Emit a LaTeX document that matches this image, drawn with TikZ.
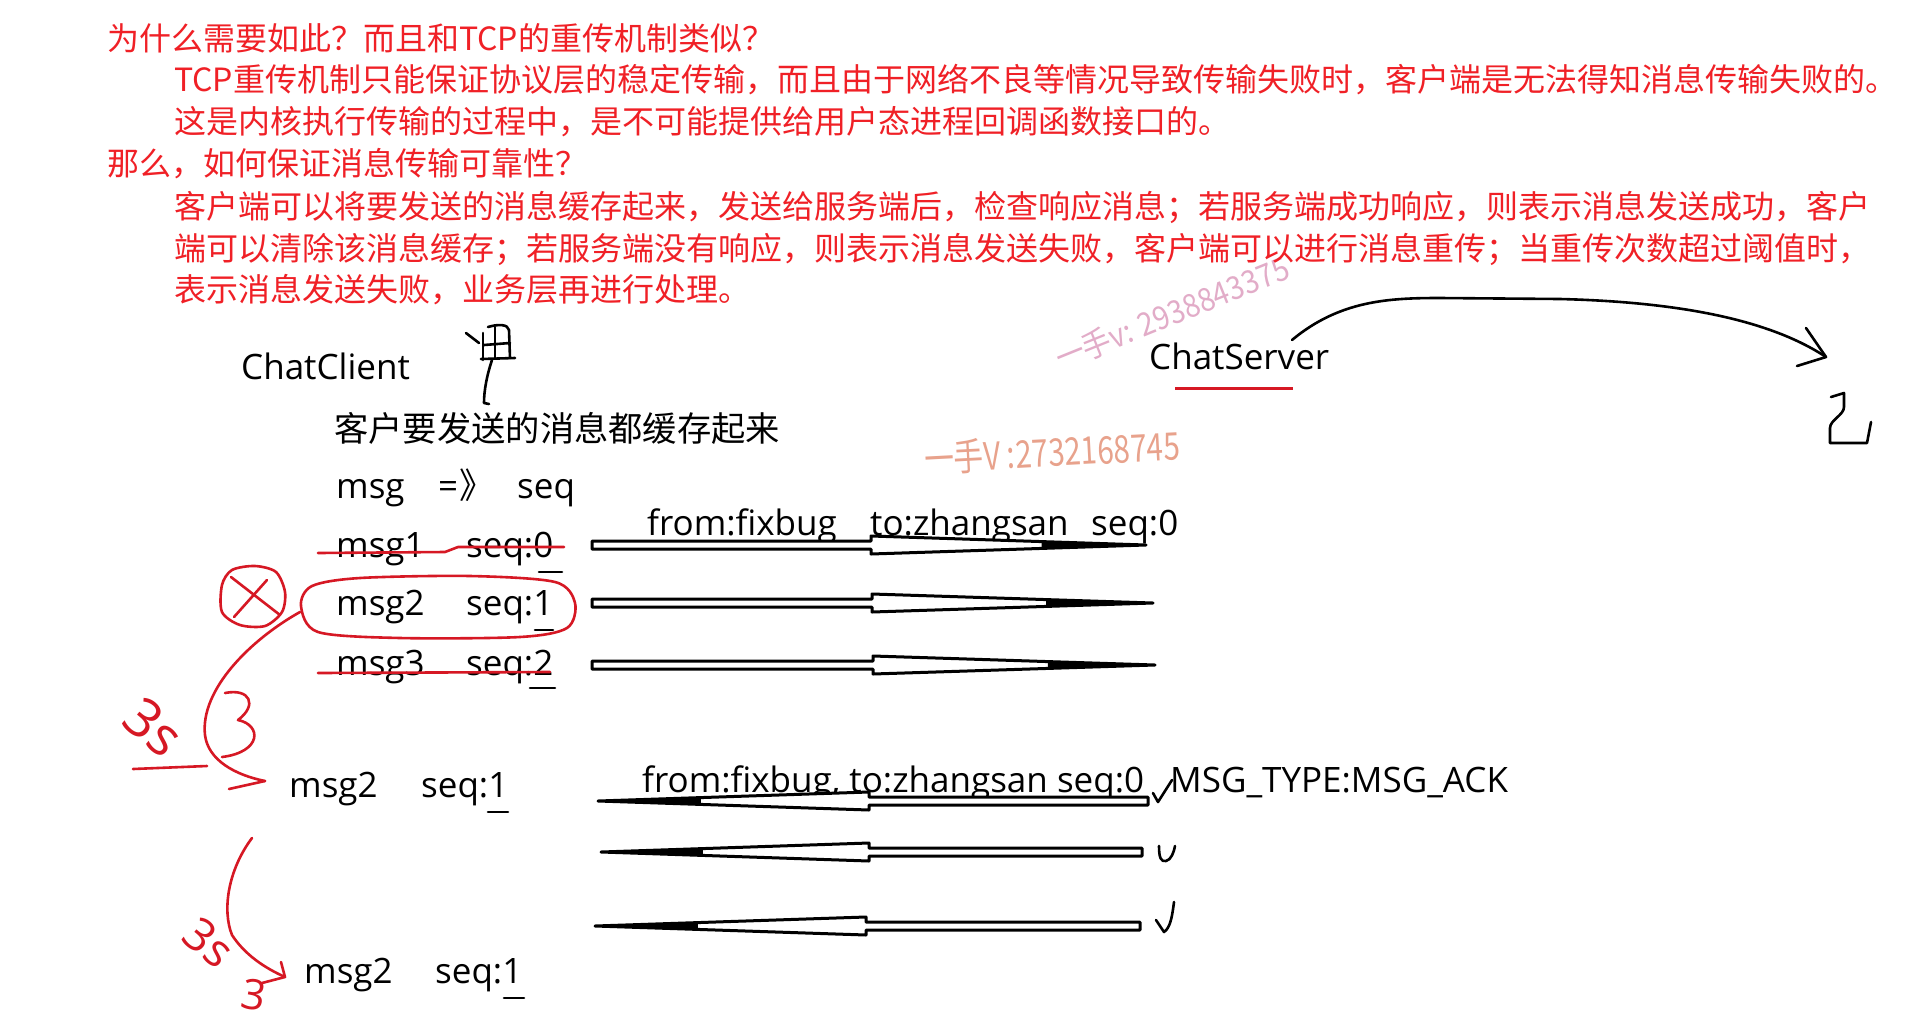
\documentclass[tikz,border=0pt]{standalone}
\usepackage{fontspec}
\setmainfont{Open Sans}
\newfontfamily\cjk{Noto Sans CJK SC}
\definecolor{redtxt}{RGB}{240,32,38}
\definecolor{redpen}{RGB}{214,24,36}
\definecolor{wmpink}{RGB}{226,172,200}
\definecolor{wmorange}{RGB}{232,162,140}
\tikzset{
  redline/.style={font=\cjk\fontsize{32}{38}\selectfont, text=redtxt, anchor=base west, inner sep=0pt},
  blk/.style={font=\fontsize{35}{42}\selectfont, anchor=base west, inner sep=0pt},
  blkcjk/.style={font=\cjk\fontsize{34.3}{40}\selectfont, anchor=base west, inner sep=0pt},
  pen/.style={draw=redpen, line width=2.6pt, line cap=round, line join=round},
  ink/.style={draw=black, line width=2.6pt, line cap=round, line join=round},
  hollow/.style={draw=black, fill=white, line width=3pt, line join=round},
  penmark/.style={text=redpen, font=\fontsize{38}{40}\selectfont, inner sep=0pt},
}
\newcommand\msgarrow[4]{% shaft end, head base, tip, y
  \draw[hollow] (#1,#4-4) -- (#2,#4-4) -- (#2,#4-9) -- (#3,#4) -- (#2,#4+9) -- (#2,#4+4) -- (#1,#4+4) -- cycle;
  \fill[black] ({#2+0.62*(#3-#2)},#4-3) -- (#3,#4) -- ({#2+0.62*(#3-#2)},#4+3) -- cycle;}
\begin{document}
\begin{tikzpicture}[x=1pt,y=-1pt]
\fill[white] (0,0) rectangle (1907,1021);
\useasboundingbox (0,0) rectangle (1907,1021);

% watermarks (behind)
\node[text=wmpink, font=\cjk\fontsize{32}{34}\selectfont, rotate=22, inner sep=0pt] (wm1) at (1172,313) {\scalebox{0.9}[1]{一手v: 2938843375}};
\node[text=wmorange, font=\cjk\fontsize{38}{40}\selectfont, rotate=3, inner sep=0pt] (wm2) at (1052,452) {\scalebox{0.78}[1]{一手V :2732168745}};

% red paragraph
\node[redline] (r1) at (107,50) {为什么需要如此？而且和TCP的重传机制类似？};
\node[redline] (r2) at (174,91) {TCP重传机制只能保证协议层的稳定传输，而且由于网络不良等情况导致传输失败时，客户端是无法得知消息传输失败的。};
\node[redline] (r3) at (174,133) {这是内核执行传输的过程中，是不可能提供给用户态进程回调函数接口的。};
\node[redline] (r4) at (107,175) {那么，如何保证消息传输可靠性？};
\node[redline] (r5) at (174,218) {客户端可以将要发送的消息缓存起来，发送给服务端后，检查响应消息；若服务端成功响应，则表示消息发送成功，客户};
\node[redline] (r6) at (174,260) {端可以清除该消息缓存；若服务端没有响应，则表示消息发送失败，客户端可以进行消息重传；当重传次数超过阈值时，};
\node[redline] (r7) at (174,301) {表示消息发送失败，业务层再进行处理。};

% client side texts
\node[blk] (client) at (241,379) {ChatClient};
\node[blkcjk] (cache) at (334,441) {客户要发送的消息都缓存起来};
\node[blk] (hmsg) at (336,498) {msg};
\node[blk] (harr) at (438,498) {=\hspace{1pt}{\cjk 》}};
\node[blk] (hseq) at (517,498) {seq};
\node[blk] (m1) at (336,557) {msg1};
\node[blk] (s1) at (466,557) {seq:0};
\node[blk] (m2) at (336,615) {msg2};
\node[blk] (s2) at (466,615) {seq:1};
\node[blk] (m3) at (336,675) {msg3};
\node[blk] (s3) at (466,675) {seq:2};
\node[blk] (m2b) at (289,797) {msg2};
\node[blk] (s2b) at (421,797) {seq:1};
\node[blk] (m2c) at (304,983) {msg2};
\node[blk] (s2c) at (435,983) {seq:1};

% server
\node[blk] (server) at (1149,369) {ChatServer};
\draw[draw=redpen, line width=3pt] (1175,388) -- (1293,388);

% labels on arrows
\node[blk] (f1) at (647,535) {from:fixbug};
\node[blk] (t1) at (870,535) {to:zhangsan};
\node[blk] (q1) at (1091,535) {seq:0};
\node[blk] (ack1) at (642,792) {from:fixbug, to:zhangsan seq:0};
\node[blk] (ack2) at (1170,792) {MSG\_TYPE:MSG\_ACK};

% message arrows (client -> server)
\msgarrow{592}{871}{1146}{545}
\msgarrow{592}{872}{1153}{603}
\msgarrow{592}{873}{1155}{665}
% ack arrows (server -> client)
\msgarrow{1148}{869}{598}{801}
\msgarrow{1142}{869}{601}{852}
\msgarrow{1140}{866}{595}{926}

% underscores under digits
\draw[ink] (539,572) -- (562,572);
\draw[ink] (535,630) -- (553,630);
\draw[ink] (530,688) -- (555,688);
\draw[ink] (488,812) -- (508,812);
\draw[ink] (504,998) -- (524,998);

% red pen marks
\draw[pen] (318,553) -- (445,552) -- (458,547) -- (564,547);
\draw[pen] (318,673) -- (550,672);
\draw[pen] plot[smooth cycle] coordinates {(301,606) (312,586) (360,578) (470,576) (555,582) (575,603) (567,628) (520,637) (400,638) (318,632)};
\draw[pen] plot[smooth cycle] coordinates {(222,585) (232,570) (255,566) (276,572) (285,592) (282,612) (265,626) (240,625) (222,612)};
\draw[pen] (231,577) -- (280,615);
\draw[pen] (267,580) -- (234,617);
\draw[pen] (300,612) .. controls (250,640) and (200,690) .. (205,735) .. controls (208,760) and (235,775) .. (265,781);
\draw[pen] (229,789) -- (265,781);
\draw[pen] (225,693) .. controls (250,688) and (258,705) .. (238,720) .. controls (262,725) and (262,752) .. (222,757);
\node[penmark, rotate=-40, font=\fontsize{54}{56}\selectfont] (t3s1) at (154,727) {3s};
\draw[pen] (133,769) -- (207,766);
\draw[pen] (252,838) .. controls (228,870) and (222,910) .. (232,935) .. controls (245,955) and (265,968) .. (285,977);
\draw[pen] (281,962) -- (285,977) -- (262,983);
\node[penmark, rotate=-40, font=\fontsize{46}{48}\selectfont] (t3s2) at (209,942) {3s};
\node[penmark, rotate=-10, font=\fontsize{42}{44}\selectfont] (t3) at (254,995) {3};

% black ink marks
\draw[ink] (1292,340) .. controls (1340,300) and (1390,298) .. (1440,298) -- (1560,299) .. controls (1680,302) and (1770,320) .. (1826,357);
\draw[ink] (1806,328) -- (1826,357) -- (1797,366);
\draw[ink] (1831,397) -- (1844,393) -- (1844,407) .. controls (1844,415) and (1830,420) .. (1830,428) -- (1830,443) -- (1867,443) -- (1871,422);
% handwritten glyph near ChatClient
\draw[ink] (466,333) -- (479,343);
\draw[ink] (483,333) -- (483,360);
\draw[ink] (488,327) .. controls (498,324) and (508,324) .. (509,330) -- (510,358);
\draw[ink] (484,345) -- (510,343);
\draw[ink] (495,327) -- (495,358);
\draw[ink] (481,359) -- (515,358);
\draw[ink] (492,360) .. controls (487,375) and (484,390) .. (484,403) -- (489,404);
% check marks
\draw[ink] (1153,793) -- (1158,802) -- (1172,780);
\draw[ink] (1159,846) .. controls (1159,858) and (1161,862) .. (1166,861) .. controls (1171,860) and (1174,852) .. (1175,846);
\draw[ink] (1156,920) -- (1164,932) .. controls (1170,928) and (1172,918) .. (1174,902);
\end{tikzpicture}
\end{document}
